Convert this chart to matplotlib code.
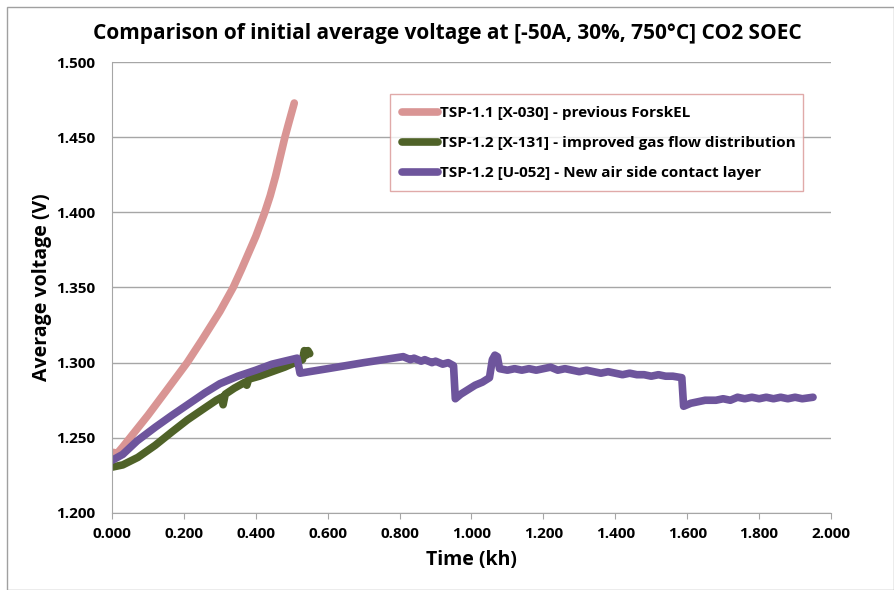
import matplotlib
matplotlib.use("Agg")
import matplotlib.pyplot as plt
from matplotlib.patches import Rectangle

plt.rcParams['font.family'] = ['Open Sans', 'DejaVu Sans']

title = "Comparison of initial average voltage at [-50A, 30%, 750°C] CO2 SOEC"
xlabel = "Time (kh)"
ylabel = "Average voltage (V)"

labels = ["TSP-1.1 [X-030] - previous ForskEL",
          "TSP-1.2 [X-131] - improved gas flow distribution",
          "TSP-1.2 [U-052] - New air side contact layer"]
colors = ["#D99594", "#4F6228", "#6E559C"]

t_pink = [0.003, 0.015, 0.03, 0.05, 0.10, 0.15, 0.209, 0.25, 0.30, 0.337, 0.36, 0.40, 0.425, 0.44, 0.455,
          0.465, 0.481, 0.49, 0.507]
v_pink = [1.2403, 1.2398, 1.2440, 1.250, 1.265, 1.281, 1.300, 1.315, 1.334, 1.350, 1.362, 1.384, 1.400, 1.411, 1.424,
          1.434, 1.450, 1.458, 1.4727]

t_green = [0.0, 0.03, 0.072, 0.12, 0.167, 0.21, 0.259, 0.29, 0.305, 0.309, 0.315, 0.34, 0.37, 0.375, 0.38, 0.41,
           0.445, 0.48, 0.509, 0.53, 0.535, 0.54, 0.545, 0.55]
v_green = [1.2305, 1.232, 1.237, 1.245, 1.254, 1.262, 1.270, 1.275, 1.277, 1.272, 1.279, 1.283, 1.287, 1.285, 1.289, 1.291,
           1.294, 1.297, 1.300, 1.302, 1.308, 1.305, 1.308, 1.306]

t_purple = [0.0, 0.03, 0.07, 0.12, 0.167, 0.21, 0.259, 0.30, 0.35, 0.40, 0.445, 0.48, 0.515, 0.523,
            0.60, 0.70, 0.81, 0.83, 0.84, 0.86, 0.87, 0.89, 0.90, 0.92, 0.935, 0.95, 0.955,
            0.97, 0.99, 1.01, 1.03, 1.05, 1.058, 1.065, 1.072, 1.078, 1.10, 1.12, 1.14, 1.16, 1.18,
            1.20, 1.22, 1.24, 1.26, 1.28, 1.30, 1.32, 1.34, 1.36, 1.38, 1.40, 1.42, 1.44, 1.46,
            1.48, 1.50, 1.52, 1.54, 1.56, 1.585, 1.59, 1.61, 1.63, 1.65, 1.68, 1.70, 1.72, 1.74,
            1.76, 1.78, 1.80, 1.82, 1.84, 1.86, 1.88, 1.90, 1.92, 1.95]
v_purple = [1.235, 1.239, 1.248, 1.257, 1.265, 1.272, 1.280, 1.286, 1.291, 1.295, 1.299, 1.301, 1.303, 1.293,
            1.296, 1.300, 1.304, 1.302, 1.303, 1.301, 1.302, 1.300, 1.301, 1.299, 1.300, 1.298, 1.276,
            1.279, 1.282, 1.285, 1.287, 1.290, 1.302, 1.305, 1.304, 1.296, 1.295, 1.296, 1.295, 1.296, 1.295,
            1.296, 1.297, 1.295, 1.296, 1.295, 1.294, 1.295, 1.294, 1.293, 1.294, 1.293, 1.292, 1.293, 1.292,
            1.292, 1.291, 1.292, 1.291, 1.291, 1.290, 1.271, 1.273, 1.274, 1.275, 1.275, 1.276, 1.275, 1.277,
            1.276, 1.277, 1.276, 1.277, 1.276, 1.277, 1.276, 1.277, 1.276, 1.277]

xticks = [0.0, 0.2, 0.4, 0.6, 0.8, 1.0, 1.2, 1.4, 1.6, 1.8, 2.0]
yticks = [1.20, 1.25, 1.30, 1.35, 1.40, 1.45, 1.50]

fig = plt.figure(figsize=(8.95, 5.90), dpi=100)
ax = fig.add_axes([112/895, 1-513/590, (831-112)/895, (513-62)/590])

series = [(t_pink, v_pink), (t_green, v_green), (t_purple, v_purple)]
for (t, v), c, lab in zip(series, colors, labels):
    ax.plot(t, v, color=c, lw=5.5, solid_capstyle='round', solid_joinstyle='round', label=lab)

ax.set_xlim(0, 2.0)
ax.set_ylim(1.2, 1.5)
ax.set_xticks(xticks)
ax.set_yticks(yticks)
ax.set_xticklabels([f"{x:.3f}" for x in xticks], fontsize=11, fontweight='bold')
ax.set_yticklabels([f"{y:.3f}" for y in yticks], fontsize=11, fontweight='bold')
ax.yaxis.grid(True, color='#A6A6A6', lw=1)
ax.set_axisbelow(True)
for s in ['top', 'right']:
    ax.spines[s].set_visible(False)
for s in ['left', 'bottom']:
    ax.spines[s].set_color('#A6A6A6')
ax.tick_params(axis='x', direction='out', length=4, color='#A6A6A6', pad=6)
ax.tick_params(axis='y', length=0, pad=12)

ax.set_xlabel(xlabel, fontsize=14, fontweight='bold')
ax.set_ylabel(ylabel, fontsize=14, fontweight='bold')
ax.xaxis.set_label_coords(0.5, (513-550)/451)
ax.yaxis.set_label_coords((52-112)/719, 0.5)
fig.text(0.5, 1-33/590, title, ha='center', va='center', fontsize=15, fontweight='bold')

leg = ax.legend(loc='upper left', bbox_to_anchor=(0.387, 0.928, 0.574, 0.0), mode='expand',
                frameon=True, fancybox=False, edgecolor='#D99594',
                prop={'weight': 'bold', 'size': 11}, handlelength=2.4, handletextpad=0.1,
                labelspacing=1.05, borderpad=0.75, borderaxespad=0)
leg.get_frame().set_linewidth(1.0)

fig.patches.append(Rectangle((7/895, 0.0), 887/895, 1-7/590, transform=fig.transFigure,
                             fill=False, edgecolor='#A0A0A0', lw=1))

fig.savefig("out.png", dpi=100)
